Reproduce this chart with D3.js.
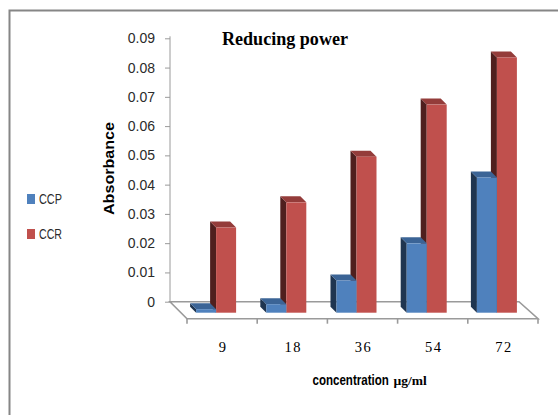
<!DOCTYPE html>
<html>
<head>
<meta charset="utf-8">
<script src="https://cdn.jsdelivr.net/npm/d3@7"></script>
<style>
  body { margin: 0; background: #fff; }
  svg { display: block; }
</style>
</head>
<body>
<div id="chart"></div>
<script>
// Data
const concentrations = ["9", "18", "36", "54", "72"];
const seriesNames = ["CCP", "CCR"];
const ccpValues = [0.0012, 0.0029, 0.011, 0.0237, 0.0462];
const ccrValues = [0.0291, 0.0377, 0.0533, 0.0711, 0.0872];
const yTicks = [0, 0.01, 0.02, 0.03, 0.04, 0.05, 0.06, 0.07, 0.08, 0.09];

const colors = {
    CCP: { front: "#4f81bd", side: "#1f3550", top: "#3b6496" },
    CCR: { front: "#c0504d", side: "#4f1f1e", top: "#943c3a" }
};

const width = 558, height = 415;

const svg = d3.select("#chart")
    .append("svg")
    .attr("width", width)
    .attr("height", height);

// Outer chart border
svg.append("rect")
    .attr("x", 9.5)
    .attr("y", 10.5)
    .attr("width", 600)
    .attr("height", 500)
    .attr("fill", "none")
    .attr("stroke", "#868686")
    .attr("stroke-width", 2);

// Scales
const wallX = 170;
const floorDepth = 17;   // oblique offset of the floor (px)
const barDepth = 6;      // oblique depth of each bar (px)
const barShift = 11;     // bars stand this far in front of the wall

const yScale = d3.scaleLinear().domain([0, 0.09]).range([301.7, 38.3]);
const xScale = d3.scaleBand().domain(concentrations).range([wallX + floorDepth, 538]);
const sScale = d3.scaleBand().domain(seriesNames).range([-20, 20]);

// Floor outline
const y0 = yScale(0);
const floorPts = [
    [wallX, y0],
    [xScale.range()[1] - floorDepth - 2, y0],
    [xScale.range()[1], y0 + floorDepth],
    [xScale.range()[0], y0 + floorDepth]
];
svg.append("polygon")
    .attr("points", floorPts.map(p => p.join(",")).join(" "))
    .attr("fill", "none")
    .attr("stroke", "#9a9a9a")
    .attr("stroke-width", 1.6);

// Category ticks along the front edge
svg.append("g")
    .selectAll("line")
    .data(d3.range(concentrations.length + 1))
    .join("line")
    .attr("x1", i => xScale.range()[0] + i * xScale.step())
    .attr("x2", i => xScale.range()[0] + i * xScale.step())
    .attr("y1", y0 + floorDepth)
    .attr("y2", y0 + floorDepth + 5)
    .attr("stroke", "#9a9a9a")
    .attr("stroke-width", 1.6);

// Y axis on the back wall
const yAxis = svg.append("g")
    .attr("transform", `translate(${wallX}, 0)`)
    .call(d3.axisLeft(yScale).tickValues(yTicks).tickFormat(d => d === 0 ? "0" : d3.format(".2f")(d)).tickSize(5).tickSizeOuter(0).tickPadding(10));
yAxis.select(".domain").attr("stroke", "#9a9a9a");
yAxis.selectAll(".tick line").attr("stroke", "#9a9a9a");
yAxis.selectAll(".tick text")
    .attr("fill", "#2b2b2b")
    .style("font-family", "'Liberation Sans', Arial, sans-serif")
    .style("font-size", "14px");
yAxis.select(".domain").attr("d", `M0,${yScale(0.09) - 2}V${y0}`);

// Bars
const rows = concentrations.map((c, i) => ({ c, CCP: ccpValues[i], CCR: ccrValues[i] }));
const groups = svg.append("g")
    .selectAll("g")
    .data(rows)
    .join("g")
    .attr("transform", d => `translate(${xScale(d.c) + xScale.bandwidth() / 2 - 6}, 0)`);

["CCR", "CCP"].forEach(s => {
    const w = sScale.bandwidth();
    const bar = groups.append("g").attr("class", "bar-" + s);
    const bx = sScale(s);
    const yb = y0 + barShift;
    const yt = d => yScale(d[s]) + barShift;
    // left side face
    bar.append("polygon")
        .attr("points", d => [[bx, yt(d)], [bx - barDepth, yt(d) - barDepth], [bx - barDepth, yb - barDepth], [bx, yb]].map(p => p.join(",")).join(" "))
        .attr("fill", colors[s].side);
    // top face
    bar.append("polygon")
        .attr("points", d => [[bx, yt(d)], [bx + w, yt(d)], [bx + w - barDepth, yt(d) - barDepth], [bx - barDepth, yt(d) - barDepth]].map(p => p.join(",")).join(" "))
        .attr("fill", colors[s].top);
    // front face
    bar.append("rect")
        .attr("x", bx)
        .attr("y", d => yt(d))
        .attr("width", w)
        .attr("height", d => yb - yt(d))
        .attr("fill", colors[s].front);
});

// Category labels
svg.append("g")
    .selectAll("text")
    .data(concentrations)
    .join("text")
    .attr("x", d => xScale(d) + xScale.bandwidth() / 2 + 1)
    .attr("y", 352)
    .attr("text-anchor", "middle")
    .style("font-family", "'Liberation Serif', 'Times New Roman', serif")
    .style("font-size", "14.5px")
    .style("letter-spacing", "1.5px")
    .text(d => d);

// Title
svg.append("text")
    .attr("x", 222)
    .attr("y", 45)
    .attr("textLength", 126)
    .attr("lengthAdjust", "spacingAndGlyphs")
    .style("font-family", "'Liberation Serif', 'Times New Roman', serif")
    .style("font-weight", "bold")
    .style("font-size", "18px")
    .text("Reducing power");

// Y axis label
svg.append("text")
    .attr("transform", "translate(113.5, 168.5) rotate(-90)")
    .attr("text-anchor", "middle")
    .attr("textLength", 93)
    .attr("lengthAdjust", "spacingAndGlyphs")
    .style("font-family", "'Liberation Sans', Arial, sans-serif")
    .style("font-weight", "bold")
    .style("font-size", "14px")
    .text("Absorbance");

// X axis label (two runs: condensed sans word, serif unit)
svg.append("text")
    .attr("transform", "translate(312.5, 385) scale(0.77, 1)")
    .style("font-family", "'Liberation Sans', Arial, sans-serif")
    .style("font-weight", "bold")
    .style("font-size", "15px")
    .text("concentration");
svg.append("text")
    .attr("x", 393.5)
    .attr("y", 385)
    .style("font-family", "'Liberation Serif', 'Times New Roman', serif")
    .style("font-weight", "bold")
    .style("font-size", "13.5px")
    .text("µg/ml");

// Legend
const legend = svg.append("g")
    .selectAll("g")
    .data(seriesNames)
    .join("g")
    .attr("transform", (d, i) => `translate(27, ${194 + i * 35})`);
legend.append("rect")
    .attr("width", 8)
    .attr("height", 10)
    .attr("fill", d => colors[d].front);
legend.append("text")
    .attr("x", 12)
    .attr("y", 10)
    .attr("textLength", 23)
    .attr("lengthAdjust", "spacingAndGlyphs")
    .attr("fill", "#2b2b2b")
    .style("font-family", "'Liberation Sans', Arial, sans-serif")
    .style("font-size", "14px")
    .text(d => d);
</script>
</body>
</html>
